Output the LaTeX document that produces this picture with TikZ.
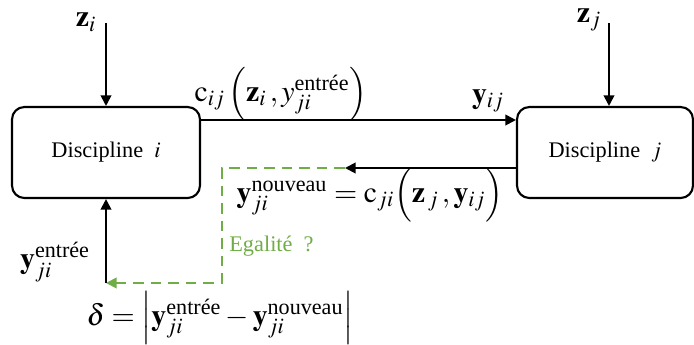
\documentclass[tikz,border=0pt]{standalone}
\usepackage{amsmath}
\usepackage{mathptmx}
\usepackage{fontspec}
\setmainfont{Liberation Serif}
\usepackage{tikz}
\usetikzlibrary{arrows.meta, positioning, calc}
\usepackage{xcolor}
\definecolor{CheckGreen}{HTML}{70AD47}
\definecolor{LineBlack}{HTML}{000000}
\tikzset{
    % Box styles - rounded corners
    discipline/.style={
        rectangle,
        rounded corners=7pt,
        draw=LineBlack,
        line width=1.2pt,
        minimum height=1.82cm,
        align=center
    },
    % Arrow styles
    flow/.style={
        -{Triangle[length=6pt,width=6pt]},
        line width=1.1pt,
        draw=LineBlack
    },
    check/.style={
        -{Triangle[length=6pt,width=6pt]},
        line width=1.1pt,
        draw=CheckGreen,
        dash pattern=on 6pt off 4pt
    },
    lbl/.style={
        inner sep=0pt
    },
    mathlbl/.style={
        inner sep=0pt,
        font=\fontsize{17}{20}\selectfont
    }
}

\begin{document}
\begin{tikzpicture}[x=0.02cm, y=-0.02cm, font=\fontsize{12.7}{15}\selectfont]
    \useasboundingbox (0,0) rectangle (694,345);

    % Disciplines
    \node[discipline, minimum width=3.76cm] (di) at (106,152.5) {Discipline~~$i$};
    \node[discipline, minimum width=3.52cm] (dj) at (605,152.5) {Discipline~~$j$};

    % Design variables
    \coordinate (zi) at (106,23);
    \coordinate (zj) at (609,23);
    \node[mathlbl] (zilbl) at (86,22) {$\mathbf{z}_i$};
    \node[mathlbl] (zjlbl) at (589,20) {$\mathbf{z}_j$};
    \draw[flow] (zi) -- (di.north);
    \draw[flow] (zj) -- (zj |- dj.north);

    % Coupling i -> j
    \draw[flow] ([yshift=0.65cm]di.east) -- ([yshift=0.65cm]dj.west);
    \node[mathlbl] (cij) at (281,94) {$\mathrm{c}_{ij}\left(\mathbf{z}_i\,, y_{ji}^{\text{entrée}}\right)$};
    \node[mathlbl] (yij) at (488,101) {$\mathbf{y}_{ij}$};

    % Coupling j -> i
    \coordinate (ret) at (345,168);
    \coordinate (turn) at (222,283);
    \coordinate (inp) at (106,283);
    \draw[flow] ([yshift=-0.31cm]dj.west) -- (ret);
    \draw[check] (ret) -| (turn) -- (inp);
    \draw[flow] (inp) -- (di.south);
    \node[mathlbl] (cji) at (370,195) {$\mathbf{y}_{ji}^{\text{nouveau}} = \mathrm{c}_{ji}\Bigl(\mathbf{z}_{\,j}\,, \mathbf{y}_{ij}\Bigr)$};
    \node[lbl, anchor=west, text=CheckGreen] (eg) at (229,246) {Egalité~~?};
    \node[mathlbl] (yin) at (55,262) {$\mathbf{y}_{ji}^{\text{entrée}}$};

    % Gap
    \node[mathlbl] (delta) at (220,318) {$\delta = \left|\mathbf{y}_{ji}^{\text{entrée}} - \mathbf{y}_{ji}^{\text{nouveau}}\right|$};
\end{tikzpicture}
\end{document}
